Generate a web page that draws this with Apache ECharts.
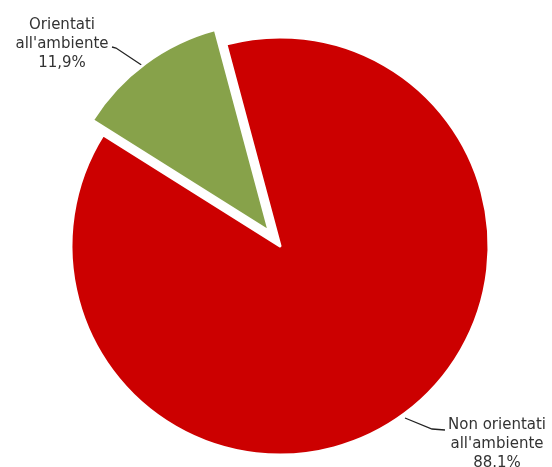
<!DOCTYPE html>
<html>
<head>
<meta charset="utf-8">
<script src="https://cdn.jsdelivr.net/npm/echarts@6/dist/echarts.min.js"></script>
<style>
  html, body { margin: 0; padding: 0; background: #fff; }
  #main { width: 552px; height: 467px; }
</style>
</head>
<body>
<div id="main"></div>
<script>
// dati
var categories = ["Non orientati\nall'ambiente", "Orientati\nall'ambiente"]
var values = [88.1, 11.9]
var valueLabels = ['88.1%', '11,9%']
var colors = ['#cc0000', '#87a24a']
var exploded = [false, true]

// posizione delle etichette e delle linee di richiamo
var labelPos = [[497, 444], [62, 44]]
var linePoints = [
    [[405, 418], [432, 429], [445, 430]],
    [[143, 66], [116, 48], [112, 47]]
]

var pieCenter = [280, 246]
var startAngle = 105
var explodeDist = 18

var myChart = echarts.init(document.getElementById('main'))

// spostamento della fetta staccata lungo la bisettrice
var total = values.reduce(function (a, b) { return a + b }, 0)
var explodeCenter = pieCenter.slice()
var acc = 0
for (var k = 0; k < values.length; k++) {
    var mid = startAngle - (acc + values[k] / 2) / total * 360
    if (exploded[k]) {
        var rad = mid * Math.PI / 180
        explodeCenter = [pieCenter[0] + explodeDist * Math.cos(rad), pieCenter[1] - explodeDist * Math.sin(rad)]
    }
    acc += values[k]
}

function buildData(showExploded) {
    var list = []
    for (var i = 0; i < categories.length; i++) {
        var visible = exploded[i] === showExploded
        list.push({
            name: categories[i],
            value: values[i],
            itemStyle: visible ? { color: colors[i] } : { color: 'transparent', borderWidth: 0 },
            label: { show: visible },
            labelLine: { show: visible }
        })
    }
    return list
}

function buildSeries(showExploded) {
    return {
        type: 'pie',
        center: showExploded ? explodeCenter : pieCenter,
        radius: 209,
        startAngle: startAngle,
        clockwise: true,
        data: buildData(showExploded),
        itemStyle: {
            borderColor: '#fff',
            borderWidth: 3
        },
        emphasis: { disabled: true },
        label: {
            formatter: function (p) {
                return p.name + '\n' + valueLabels[p.dataIndex]
            },
            fontFamily: 'DejaVu Sans',
            fontSize: 15,
            lineHeight: 19,
            color: '#333',
            align: 'center',
            overflow: 'none'
        },
        labelLine: {
            lineStyle: { color: '#222', width: 1.3 }
        },
        labelLayout: function (params) {
            var p = labelPos[params.dataIndex]
            return {
                x: p[0], y: p[1], align: 'center', verticalAlign: 'middle',
                labelLinePoints: linePoints[params.dataIndex]
            }
        }
    }
}

var options = {
    animation: false,
    series: [buildSeries(false), buildSeries(true)]
}
myChart.setOption(options)
</script>
</body>
</html>
